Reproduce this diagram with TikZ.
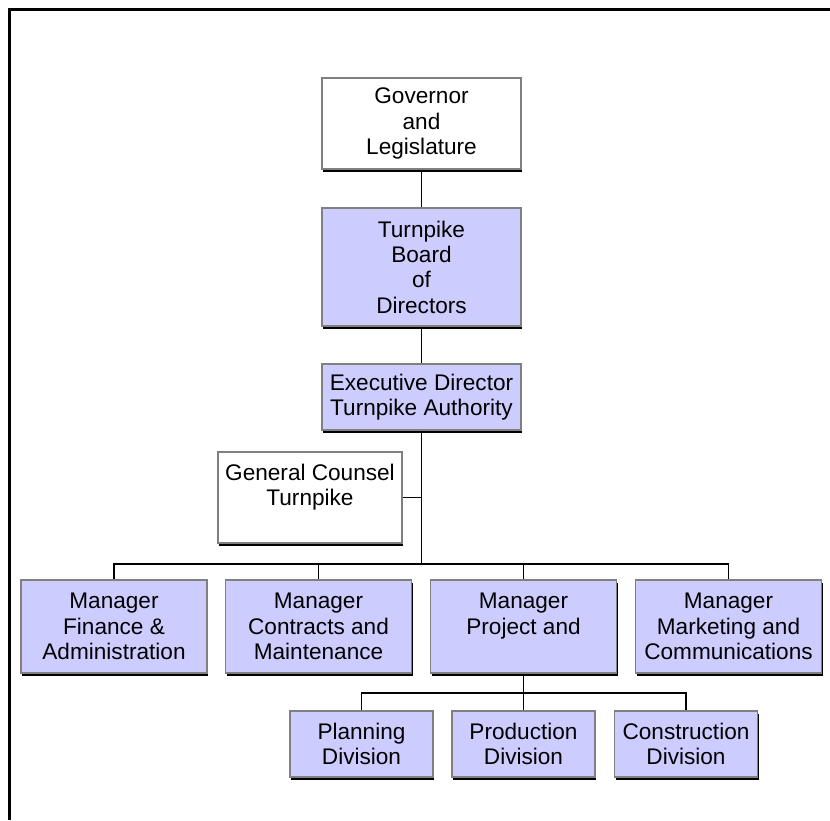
\documentclass[tikz,border=0pt]{standalone}
\usepackage{fontspec}
\setmainfont{Liberation Sans}
\usetikzlibrary{shadows}
\definecolor{boxblue}{RGB}{204,204,255}

\begin{document}
\begin{tikzpicture}[x=1pt,y=-1pt,
   unit/.style={draw=gray,line width=1.2pt,fill=white,align=center,inner sep=0pt,
     font=\fontsize{22.6}{25.3}\selectfont,
     drop shadow={shadow xshift=1pt,shadow yshift=-3pt,fill=black,opacity=1}},
   dept/.style={unit,fill=boxblue},
   link/.style={line width=1.4pt}]
   \useasboundingbox (0,0) rectangle (830,820);
   % frame
   \draw[line width=3pt] (9,820) -- (9,9) -- (830,9);

   \node[unit,minimum width=199pt,minimum height=91pt] (gov) at (421.5,123.5) {Governor\\and\\Legislature};
   \node[dept,minimum width=199pt,minimum height=118pt] (board) at (421.5,267) {Turnpike\\Board\\of\\Directors};
   \node[dept,minimum width=199pt,minimum height=66pt] (exec) at (421.5,397) {Executive Director\\Turnpike Authority};
   \node[unit,minimum width=184pt,minimum height=91pt] (counsel) at (310,497.5) {General Counsel\\Turnpike\\\mbox{}};

   \begin{scope}[every node/.style={dept,minimum width=186pt,minimum height=93pt}]
     \node (finance) at (114,626.5) {Manager\\Finance \&\\Administration};
     \node (contracts) at (318.5,626.5) {Manager\\Contracts and\\Maintenance};
     \node (project) at (523.5,626.5) {Manager\\Project and\\\mbox{}};
     \node (marketing) at (728.5,626.5) {Manager\\Marketing and\\Communications};
   \end{scope}

   \begin{scope}[every node/.style={dept,minimum width=143pt,minimum height=66pt}]
     \node (planning) at (361.5,744) {Planning\\Division};
     \node (production) at (523.5,744) {Production\\Division};
     \node (construction) at (686,744) {Construction\\Division};
   \end{scope}

   \coordinate (bus) at (421.5,564);
   \coordinate (subbus) at (523.5,693);

   \draw[link] (gov) -- (board);
   \draw[link] (board) -- (exec);
   \draw[link] (exec) -- (bus);
   \draw[link] (counsel.east) -- (counsel.east -| exec.south);
   \draw[link] (finance.north) -- (finance.north |- bus) -- (marketing.north |- bus) -- (marketing.north);
   \draw[link] (contracts.north) -- (contracts.north |- bus);
   \draw[link] (project.north) -- (project.north |- bus);
   \draw[link] (project.south) -- (subbus);
   \draw[link] (planning.north) -- (planning.north |- subbus) -- (construction.north |- subbus) -- (construction.north);
   \draw[link] (production.north) -- (production.north |- subbus);
\end{tikzpicture}
\end{document}
